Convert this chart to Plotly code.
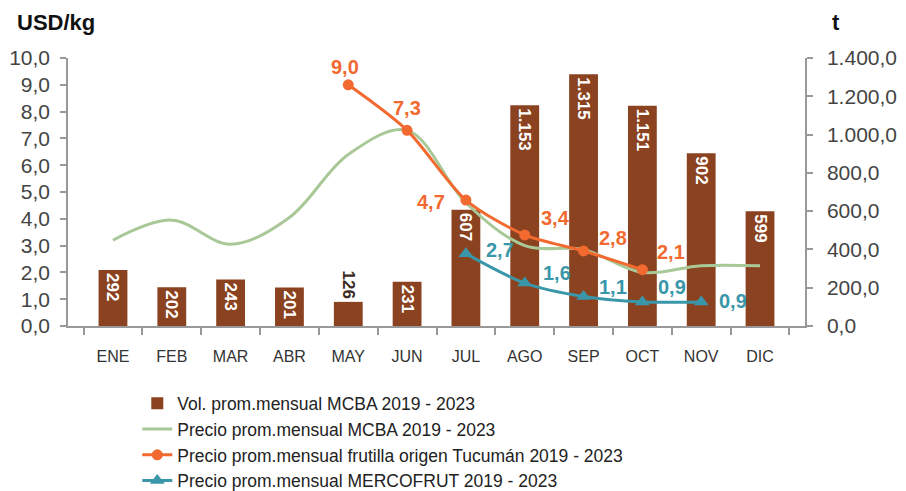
import plotly.graph_objects as go

months = ["ENE", "FEB", "MAR", "ABR", "MAY", "JUN", "JUL", "AGO", "SEP", "OCT", "NOV", "DIC"]
vol_mcba = [292, 202, 243, 201, 126, 231, 607, 1153, 1315, 1151, 902, 599]
precio_mcba = [3.2, 3.95, 3.05, 4.05, 6.4, 7.3, 4.6, 3.0, 2.85, 2.0, 2.25, 2.25]
precio_tucuman = [None, None, None, None, 9.0, 7.3, 4.7, 3.4, 2.8, 2.1, None, None]
precio_mercofrut = [None, None, None, None, None, None, 2.7, 1.6, 1.1, 0.9, 0.9, None]
left_ticks = [0, 1, 2, 3, 4, 5, 6, 7, 8, 9, 10]
right_ticks = [0, 200, 400, 600, 800, 1000, 1200, 1400]

BROWN = "#8B4220"
GREEN = "#A8C898"
ORANGE = "#F26A30"
TEAL = "#3A97A9"
LABELFONT = "Liberation Sans, Arial"
TICKFONT = dict(family="Liberation Sans, Arial", size=21, color="#444444")

fig = go.Figure()

bar_pos = ["outside" if v < 150 else "inside" for v in vol_mcba]
fig.add_trace(go.Bar(
    x=months, y=vol_mcba, name="Vol. prom.mensual MCBA 2019 - 2023",
    marker=dict(color=BROWN, line=dict(width=0)),
    texttemplate="%{y:,.0f}", textposition=bar_pos, textangle=90,
    insidetextanchor="end", cliponaxis=False,
    insidetextfont=dict(family=LABELFONT, size=17, color="white", weight="bold"),
    outsidetextfont=dict(family=LABELFONT, size=17, color="#3a2a20", weight="bold"),
    yaxis="y", hoverinfo="skip",
))
fig.add_trace(go.Scatter(
    x=months, y=precio_mcba, name="Precio prom.mensual MCBA 2019 - 2023",
    mode="lines", line=dict(color=GREEN, width=3, shape="spline", smoothing=1.0),
    yaxis="y2",
))
fig.add_trace(go.Scatter(
    x=months, y=precio_tucuman, name="Precio prom.mensual frutilla origen Tucumán 2019 - 2023",
    mode="lines+markers", line=dict(color=ORANGE, width=3, shape="spline", smoothing=0.8),
    marker=dict(symbol="circle", size=11, color=ORANGE),
    yaxis="y2",
))
fig.add_trace(go.Scatter(
    x=months, y=precio_mercofrut, name="Precio prom.mensual MERCOFRUT 2019 - 2023",
    mode="lines+markers", line=dict(color=TEAL, width=3, shape="spline", smoothing=0.8),
    marker=dict(symbol="triangle-up", size=13, color=TEAL),
    yaxis="y2",
))

annotations = []
tuc_offsets = {4: (-3, 18), 5: (0, 22), 6: (-35, -2), 7: (31, 17), 8: (29, 13), 9: (29, 18)}
for i, v in enumerate(precio_tucuman):
    if v is None:
        continue
    dx, dy = tuc_offsets[i]
    annotations.append(dict(
        x=months[i], y=v, xref="x", yref="y2", text=f"{v:.1f}".replace(".", ","),
        showarrow=False, xshift=dx, yshift=dy,
        font=dict(family=LABELFONT, size=20, color=ORANGE, weight="bold"),
    ))
mer_offsets = {6: (34, 4), 7: (32, 10), 8: (29, 10), 9: (30, 15), 10: (32, 1)}
for i, v in enumerate(precio_mercofrut):
    if v is None:
        continue
    dx, dy = mer_offsets[i]
    annotations.append(dict(
        x=months[i], y=v, xref="x", yref="y2", text=f"{v:.1f}".replace(".", ","),
        showarrow=False, xshift=dx, yshift=dy,
        font=dict(family=LABELFONT, size=20, color=TEAL, weight="bold"),
    ))
annotations.append(dict(
    x=-0.0720, y=1.134, xref="paper", yref="paper", text="<b>USD/kg</b>",
    showarrow=False, xanchor="left", yanchor="middle",
    font=dict(family="Liberation Sans, Arial", size=22, color="#111111"),
))
annotations.append(dict(
    x=1.034, y=1.134, xref="paper", yref="paper", text="<b>t</b>",
    showarrow=False, xanchor="left", yanchor="middle",
    font=dict(family="Liberation Sans, Arial", size=22, color="#111111"),
))

fig.update_layout(
    width=906, height=491,
    margin=dict(l=68, r=101, t=58, b=165, autoexpand=False),
    paper_bgcolor="white", plot_bgcolor="white",
    separators=",.",
    bargap=0.51,
    showlegend=True,
    legend=dict(
        x=0.094, y=-0.222, xanchor="left", yanchor="top", orientation="v",
        font=dict(family="Liberation Sans, Arial", size=17.5, color="#222222"),
        bgcolor="rgba(0,0,0,0)", itemwidth=30, tracegroupgap=0,
    ),
    xaxis=dict(
        type="category", showgrid=False, showline=True, linecolor="#999999", linewidth=1.5,
        ticks="outside", tickson="boundaries", ticklen=7, tickcolor="#999999", tickwidth=1.5,
        tickfont=dict(family="Liberation Sans, Arial", size=16, color="#333333"),
        ticklabelstandoff=15, automargin=False,
    ),
    yaxis=dict(
        side="right", range=[0, 1400], tickvals=right_ticks, tickformat=",.1f",
        showgrid=False, zeroline=False, showline=True, linecolor="#999999", linewidth=1.5,
        ticks="outside", ticklen=6, tickcolor="#999999", tickwidth=1.5,
        tickfont=TICKFONT, ticklabelstandoff=10, automargin=False,
    ),
    yaxis2=dict(
        side="left", overlaying="y", range=[0, 10], tickvals=left_ticks, tickformat=".1f",
        showgrid=False, zeroline=False, showline=True, linecolor="#999999", linewidth=1.5,
        ticks="outside", ticklen=6, tickcolor="#999999", tickwidth=1.5,
        tickfont=TICKFONT, ticklabelstandoff=6, automargin=False,
    ),
    annotations=annotations,
)

fig.write_html(
    "out.html",
    config={"displayModeBar": False},
    post_script="document.body.style.margin='0';document.body.style.overflow='hidden';",
)
